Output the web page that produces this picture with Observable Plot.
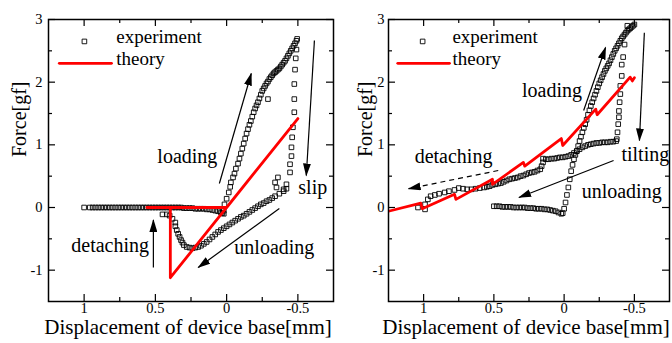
<!DOCTYPE html>
<html><head><meta charset="utf-8">
<script src="https://cdn.jsdelivr.net/npm/d3@7"></script>
<script src="https://cdn.jsdelivr.net/npm/@observablehq/plot@0.6"></script>
<style>
body{margin:0;background:#fff;}
#wrap{position:relative;width:672px;height:343px;overflow:hidden;}
#wrap svg{position:absolute;top:0;}
#wrap svg text{font-family:"Liberation Serif","Times New Roman",serif !important;}
</style></head><body><div id="wrap"></div>
<script>
// ---- axis ticks ----
const xTicksMajor = [1, 0.5, 0, -0.5];
const xTicksMinor = [0.75, 0.25, -0.25];
const yTicksMajor = [-1, 0, 1, 2, 3];
const yTicksMinor = [-0.5, 0.5, 1.5, 2.5];

// ---- left panel: experiment (displacement, force) ----
const leftApproach = [[1.0,0],[0.96,0],[0.94,0],[0.92,0],[0.9,0],[0.88,0],[0.86,0],[0.84,0],[0.82,0],[0.8,0],[0.78,0],[0.76,0],[0.74,0],[0.72,0],[0.7,0],[0.68,0],[0.66,0],[0.64,0],[0.62,0],[0.6,0],[0.58,0],[0.56,0],[0.54,0],[0.52,0],[0.5,0],[0.48,0],[0.46,0],[0.44,0],[0.42,0],[0.4,0],[0.38,0],[0.36,0],[0.34,0],[0.32,0],[0.3,-0.01],[0.28,-0.01],[0.26,-0.01],[0.24,-0.01],[0.22,-0.02],[0.2,-0.02],[0.18,-0.02],[0.16,-0.02],[0.14,-0.03],[0.12,-0.03],[0.1,-0.04],[0.08,-0.05],[0.06,-0.06],[0.04,-0.08],[0.03,-0.09],[0.02,-0.1]];
const leftLoading = [[0.02,-0.05],[0.015,0.05],[0.0,0.14],[-0.015,0.24],[-0.025,0.33],[-0.03,0.4],[-0.045,0.48],[-0.055,0.54],[-0.065,0.62],[-0.08,0.7],[-0.09,0.78],[-0.1,0.86],[-0.11,0.94],[-0.12,1.02],[-0.13,1.1],[-0.14,1.18],[-0.15,1.25],[-0.16,1.32],[-0.17,1.38],[-0.18,1.45],[-0.19,1.52],[-0.2,1.58],[-0.21,1.63],[-0.22,1.68],[-0.23,1.74],[-0.24,1.8],[-0.25,1.86],[-0.26,1.9],[-0.27,1.94],[-0.28,1.98],[-0.29,2.01],[-0.3,2.05],[-0.31,2.08],[-0.32,2.11],[-0.33,2.14],[-0.34,2.16],[-0.35,2.18],[-0.36,2.2],[-0.37,2.22],[-0.38,2.25],[-0.39,2.28],[-0.4,2.31],[-0.41,2.34],[-0.42,2.38],[-0.43,2.42],[-0.44,2.46],[-0.45,2.5],[-0.46,2.54],[-0.47,2.58],[-0.48,2.62],[-0.49,2.66],[-0.495,2.69],[-0.29,1.73]];
const leftSlip = [[-0.49,2.52],[-0.485,2.38],[-0.48,2.2],[-0.475,1.97],[-0.475,1.73],[-0.475,1.52],[-0.465,1.28],[-0.46,1.12],[-0.455,0.96],[-0.455,0.82],[-0.445,0.69],[-0.445,0.56],[-0.42,0.37],[-0.4,0.29],[-0.36,0.48],[-0.34,0.4],[-0.35,0.32]];
const leftUnloading = [[-0.42,0.3],[-0.4,0.26],[-0.37,0.22],[-0.34,0.18],[-0.32,0.15],[-0.3,0.12],[-0.28,0.1],[-0.26,0.07],[-0.24,0.05],[-0.22,0.02],[-0.2,-0.01],[-0.18,-0.04],[-0.16,-0.07],[-0.14,-0.1],[-0.12,-0.13],[-0.1,-0.15],[-0.08,-0.18],[-0.06,-0.21],[-0.04,-0.24],[-0.02,-0.27],[0.0,-0.3],[0.02,-0.33],[0.04,-0.36],[0.06,-0.39],[0.08,-0.43],[0.1,-0.47],[0.12,-0.51],[0.14,-0.55],[0.16,-0.58],[0.18,-0.61],[0.2,-0.63],[0.22,-0.64],[0.24,-0.65],[0.26,-0.64],[0.28,-0.63],[0.3,-0.6],[0.31,-0.56],[0.32,-0.52],[0.33,-0.47],[0.34,-0.42],[0.35,-0.36],[0.36,-0.3],[0.36,-0.24],[0.38,-0.18],[0.4,-0.13],[0.42,-0.11],[0.45,-0.11]];
const leftTheory = [[0.56,0],[0.0,0],[-0.5,1.42],[0.395,-1.12],[0.395,0]];

// ---- right panel: experiment ----
const rightApproach = [[0.5,0.02],[0.48,0.02],[0.46,0.02],[0.44,0.01],[0.42,0.01],[0.4,0.01],[0.38,0.01],[0.36,0.0],[0.34,0.0],[0.32,0.0],[0.3,0.0],[0.28,0.0],[0.26,-0.01],[0.24,-0.01],[0.22,-0.01],[0.2,-0.02],[0.18,-0.02],[0.16,-0.02],[0.14,-0.03],[0.12,-0.03],[0.1,-0.04],[0.08,-0.05],[0.06,-0.06],[0.04,-0.08],[0.02,-0.1],[0.01,-0.09]];
const rightLoading = [[0.0,-0.02],[-0.01,0.08],[-0.02,0.2],[-0.03,0.32],[-0.04,0.45],[-0.05,0.58],[-0.06,0.68],[-0.07,0.77],[-0.08,0.84],[-0.09,0.9],[-0.1,0.98],[-0.11,1.06],[-0.12,1.13],[-0.13,1.2],[-0.14,1.27],[-0.15,1.33],[-0.16,1.4],[-0.17,1.48],[-0.18,1.55],[-0.19,1.62],[-0.2,1.68],[-0.21,1.74],[-0.22,1.8],[-0.23,1.86],[-0.24,1.92],[-0.25,1.98],[-0.26,2.03],[-0.27,2.08],[-0.28,2.13],[-0.29,2.18],[-0.3,2.22],[-0.31,2.26],[-0.32,2.3],[-0.33,2.35],[-0.34,2.4],[-0.35,2.45],[-0.36,2.5],[-0.37,2.54],[-0.38,2.58],[-0.39,2.62],[-0.4,2.66],[-0.41,2.7],[-0.42,2.73],[-0.43,2.76],[-0.44,2.79],[-0.45,2.82],[-0.46,2.84],[-0.47,2.86],[-0.48,2.88],[-0.49,2.9],[-0.5,2.92]];
const rightSlip = [[-0.45,2.9],[-0.43,2.6],[-0.42,2.4],[-0.41,2.28],[-0.41,2.1],[-0.4,1.94],[-0.4,1.81],[-0.395,1.68],[-0.39,1.54],[-0.39,1.44],[-0.385,1.33],[-0.38,1.2],[-0.375,1.09]];
const rightUnloading = [[-0.37,1.06],[-0.35,1.05],[-0.33,1.05],[-0.31,1.04],[-0.29,1.04],[-0.27,1.04],[-0.25,1.03],[-0.23,1.03],[-0.21,1.02],[-0.19,1.01],[-0.17,1.0],[-0.15,0.98],[-0.13,0.96],[-0.11,0.93],[-0.09,0.9],[-0.07,0.87],[-0.05,0.84],[-0.03,0.82],[-0.01,0.81],[0.01,0.8],[0.03,0.8],[0.05,0.79],[0.07,0.78],[0.09,0.78],[0.11,0.77],[0.13,0.77],[0.15,0.78],[0.15,0.72],[0.16,0.66],[0.17,0.61],[0.19,0.59],[0.21,0.57],[0.23,0.56],[0.25,0.55],[0.27,0.53],[0.29,0.51],[0.31,0.5],[0.33,0.48],[0.35,0.47],[0.37,0.46],[0.39,0.45],[0.41,0.43],[0.43,0.41],[0.45,0.39],[0.47,0.38],[0.49,0.37],[0.51,0.36],[0.53,0.34],[0.55,0.33],[0.57,0.32],[0.6,0.31],[0.63,0.3],[0.66,0.29],[0.69,0.29],[0.72,0.3],[0.75,0.31],[0.78,0.28],[0.82,0.26],[0.85,0.24],[0.89,0.22],[0.92,0.2],[0.95,0.18],[0.97,0.13],[0.99,0.05],[1.04,0.0],[0.99,-0.03]];
const rightTheory = [[1.25,-0.06],[1.02,0.07],[1.01,-0.02],[0.78,0.21],[0.77,0.13],[0.51,0.45],[0.51,0.37],[0.29,0.72],[0.28,0.66],[0.02,1.1],[0.01,0.99],[-0.225,1.57],[-0.235,1.48],[-0.47,2.08],[-0.485,2.02],[-0.5,2.07]];

const legendLabels = ["experiment", "theory"];
const xTitle = "Displacement of device base[mm]";
const yTitle = "Force[gf]";

const FONT = "'Liberation Serif', 'Times New Roman', serif";

function panel(o) {
  const W = 336, H = 343, mt = 19, mb = 42, mr = 3, ml = o.ml;
  const iw = W - ml - mr, ih = H - mt - mb;
  const toObj = a => a.map(([x, y]) => ({x, y}));
  const exp = toObj(o.exp);
  const th = toObj(o.theory);
  const solid = o.arrows.filter(a => !a.dash);
  const dashed = o.arrows.filter(a => a.dash);
  const txt = {fontFamily: FONT, fill: "black"};
  const svg = Plot.plot({
    width: W, height: H, marginTop: mt, marginBottom: mb, marginLeft: ml, marginRight: mr,
    style: {fontFamily: FONT, fontSize: "15px", background: "white", color: "black", overflow: "visible"},
    x: {domain: [1.25, -0.75], label: null},
    y: {domain: [-1.5, 3], label: null},
    marks: [
      Plot.ruleX(xTicksMajor, {x: d => d, insetTop: ih - 7, stroke: "black", strokeWidth: 1.2}),
      Plot.ruleX(xTicksMajor, {x: d => d, insetBottom: ih - 7, stroke: "black", strokeWidth: 1.2}),
      Plot.ruleX(xTicksMinor, {x: d => d, insetTop: ih - 4, stroke: "black", strokeWidth: 1.2}),
      Plot.ruleX(xTicksMinor, {x: d => d, insetBottom: ih - 4, stroke: "black", strokeWidth: 1.2}),
      Plot.ruleY(yTicksMajor, {y: d => d, insetRight: iw - 7, stroke: "black", strokeWidth: 1.2}),
      Plot.ruleY(yTicksMajor, {y: d => d, insetLeft: iw - 7, stroke: "black", strokeWidth: 1.2}),
      Plot.ruleY(yTicksMinor, {y: d => d, insetRight: iw - 4, stroke: "black", strokeWidth: 1.2}),
      Plot.ruleY(yTicksMinor, {y: d => d, insetLeft: iw - 4, stroke: "black", strokeWidth: 1.2}),
      Plot.dot(exp, {x: "x", y: "y", symbol: "square", r: 2.6, stroke: "black", strokeWidth: 0.9, fill: "none"}),
      Plot.line(th, {x: "x", y: "y", stroke: "#ff0000", strokeWidth: 2.8, clip: true}),
      Plot.frame({stroke: "black", strokeWidth: 1.5}),
      Plot.axisX({ticks: xTicksMajor, tickSize: 0, tickPadding: 1, fontSize: 14.5, label: null, tickFormat: d => String(d), ...txt}),
      Plot.axisY({ticks: yTicksMajor, tickSize: 0, tickPadding: o.yPad, fontSize: 14.5, label: null, tickFormat: d => String(d), ...txt}),
      // legend
      Plot.dot([o.legend.square], {x: "x", y: "y", symbol: "square", r: 2.6, stroke: "black", strokeWidth: 0.9, fill: "none"}),
      Plot.line(o.legend.line, {x: "x", y: "y", stroke: "#ff0000", strokeWidth: 2.8}),
      Plot.text(o.legend.texts, {x: "x", y: "y", text: "t", textAnchor: "start", fontSize: 19, ...txt}),
      // annotations
      Plot.link(solid, {x1: "x1", y1: "y1", x2: "x2", y2: "y2", stroke: "black", strokeWidth: 1.2}),
      Plot.link(dashed, {x1: "x1", y1: "y1", x2: "x2", y2: "y2", stroke: "black", strokeWidth: 1.2, strokeDasharray: "5,4"}),
      Plot.text(o.labels, {x: "x", y: "y", text: "t", textAnchor: "start", fontSize: 20, ...txt}),
      // titles
      Plot.text([yTitle], {text: d => d, frameAnchor: "left", rotate: -90, dx: o.yTitleDx, dy: -3.5, fontSize: 20, ...txt}),
      Plot.text([xTitle], {text: d => d, frameAnchor: "bottom", dx: -3, dy: 32, fontSize: 21, ...txt})
    ]
  });
  return svg;
}

const leftCfg = {
  ml: 48, yPad: 6, yTitleDx: -28.5, left: 0,
  exp: [...leftApproach, ...leftLoading, ...leftSlip, ...leftUnloading],
  theory: leftTheory,
  legend: {
    square: {x: 0.998, y: 2.65},
    line: [{x: 1.174, y: 2.30}, {x: 0.808, y: 2.30}],
    texts: [{x: 0.774, y: 2.73, t: legendLabels[0]}, {x: 0.774, y: 2.375, t: legendLabels[1]}]
  },
  arrows: [
    {x1: 0.051, y1: 0.383, x2: -0.173, y2: 2.138},
    {x1: -0.616, y1: 2.665, x2: -0.559, y2: 0.51},
    {x1: 0.514, y1: -0.957, x2: 0.514, y2: -0.2},
    {x1: -0.37, y1: -0.016, x2: 0.199, y2: -0.957}
  ],
  labels: [
    {x: 0.486, y: 0.82, t: "loading"},
    {x: -0.503, y: 0.32, t: "slip"},
    {x: 1.09, y: -0.60, t: "detaching"},
    {x: -0.054, y: -0.64, t: "unloading"}
  ]
};

const rightCfg = {
  ml: 52, yPad: 4, yTitleDx: -23, left: 336,
  exp: [...rightApproach, ...rightLoading, ...rightSlip, ...rightUnloading],
  theory: rightTheory,
  legend: {
    square: {x: 1.007, y: 2.65},
    line: [{x: 1.184, y: 2.30}, {x: 0.816, y: 2.30}],
    texts: [{x: 0.795, y: 2.73, t: legendLabels[0]}, {x: 0.795, y: 2.375, t: legendLabels[1]}]
  },
  arrows: [
    {x1: -0.139, y1: 1.548, x2: -0.295, y2: 2.553},
    {x1: -0.571, y1: 2.79, x2: -0.536, y2: 1.07},
    {x1: -0.352, y1: 0.75, x2: 0.321, y2: 0.16},
    {x1: 0.469, y1: 0.59, x2: 1.107, y2: 0.30, dash: true}
  ],
  labels: [
    {x: 0.30, y: 1.86, t: "loading"},
    {x: 1.064, y: 0.82, t: "detaching"},
    {x: -0.408, y: 0.85, t: "tilting"},
    {x: -0.125, y: 0.26, t: "unloading"}
  ]
};

const wrap = document.getElementById("wrap");
[leftCfg, rightCfg].forEach((cfg, i) => {
  const svg = panel(cfg);
  svg.style.left = cfg.left + "px";
  wrap.appendChild(svg);
  // filled arrowheads
  const ns = "http://www.w3.org/2000/svg";
  const defs = document.createElementNS(ns, "defs");
  const id = "ahead" + i;
  const marker = document.createElementNS(ns, "marker");
  marker.setAttribute("id", id);
  marker.setAttribute("viewBox", "0 0 13 8");
  marker.setAttribute("refX", "12");
  marker.setAttribute("refY", "4");
  marker.setAttribute("markerWidth", "13");
  marker.setAttribute("markerHeight", "8");
  marker.setAttribute("markerUnits", "userSpaceOnUse");
  marker.setAttribute("orient", "auto");
  const p = document.createElementNS(ns, "path");
  p.setAttribute("d", "M0,0L13,4L0,8Z");
  p.setAttribute("fill", "black");
  p.setAttribute("stroke", "none");
  marker.appendChild(p);
  defs.appendChild(marker);
  svg.insertBefore(defs, svg.firstChild);
  svg.querySelectorAll('g[aria-label="link"] path').forEach(el => el.setAttribute("marker-end", `url(#${id})`));
});
</script></body></html>
